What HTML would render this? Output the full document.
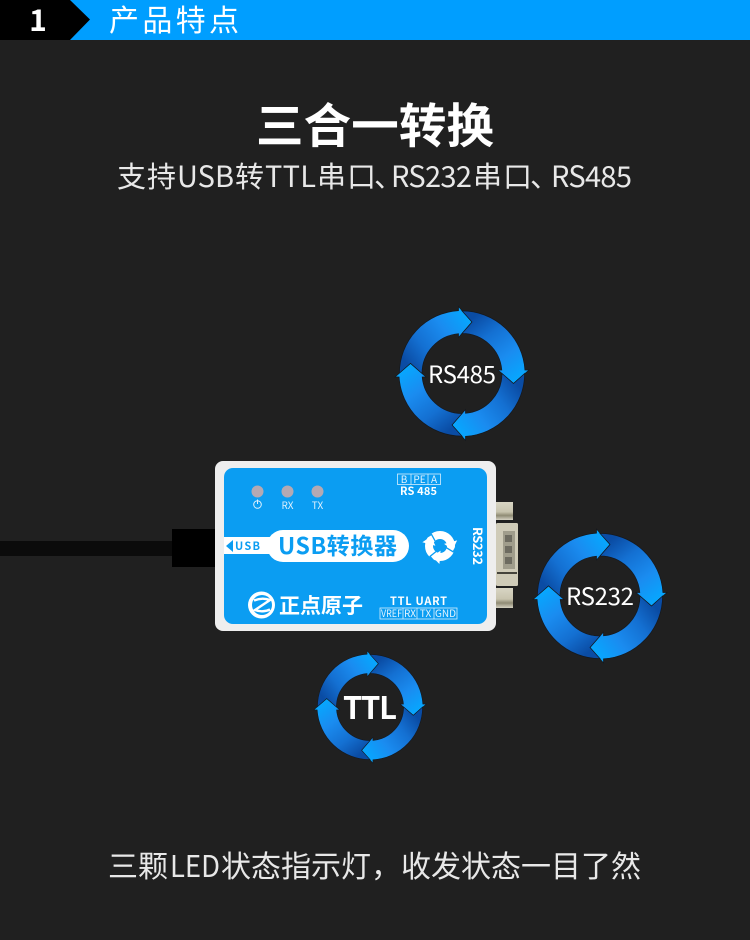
<!DOCTYPE html>
<html><head><meta charset="utf-8"><style>
html,body{margin:0;padding:0;background:#202020}
svg{display:block}
text{font-family:"Noto Sans CJK SC","Liberation Sans",sans-serif}
</style></head><body>
<svg width="750" height="940" viewBox="0 0 750 940" xmlns="http://www.w3.org/2000/svg">
<defs>
<linearGradient id="g" gradientUnits="userSpaceOnUse" x1="-52" y1="-6" x2="10" y2="-52">
<stop offset="0" stop-color="#0a4ca4"/><stop offset=".3" stop-color="#1470d2"/><stop offset=".65" stop-color="#1a8cf0"/><stop offset="1" stop-color="#06a8ff"/>
</linearGradient>
<path id="a" d="M-62.6,0 L-51.5,-10 L-40,0 A40,40 0 0 1 -3.500,-39.800 L-3.500,-36 L10,-51.500 L-3.500,-67 L-3.500,-62.900 A63,63 0 0 0 -62.600,0 Z"/>
<g id="ring" fill="url(#g)" stroke="#14181e" stroke-width=".7" stroke-linejoin="miter">
<use href="#a"/><use href="#a" transform="rotate(90)"/><use href="#a" transform="rotate(180)"/><use href="#a" transform="rotate(270)"/>
</g>
<linearGradient id="m" x1="0" y1="0" x2="0" y2="1"><stop offset="0" stop-color="#d8d5c4"/><stop offset=".55" stop-color="#c8c4ae"/><stop offset=".75" stop-color="#8f8b74"/><stop offset="1" stop-color="#d5d2c2"/></linearGradient>
<g id="ih"><path d="M-1,-18 L-1,-4.500 L7,-11.200Z" fill="#fff"/><path d="M1.500,-18.500 L9,-11.200 L1.500,-4" fill="none" stroke="#0b9df2" stroke-width="1.300"/></g>
</defs>
<rect width="750" height="940" fill="#202020"/>

<!-- header -->
<rect width="750" height="40" fill="#009eff"/>
<path d="M0,0H70L90,19.500L70,40H0Z" fill="#000"/>
<text x="38" y="31" font-size="30" font-weight="700" fill="#fff" text-anchor="middle">1</text>
<text x="109" y="31" font-size="30" fill="#fff" textLength="130" lengthAdjust="spacing">产品特点</text>

<!-- titles -->
<text x="256" y="143" font-size="47.500" font-weight="700" fill="#fff" textLength="238" lengthAdjust="spacing">三合一转换</text>
<g font-size="29" fill="#e8e8e8">
<text x="117" y="187" textLength="59" lengthAdjust="spacing">支持</text>
<text x="177" y="187" textLength="57" lengthAdjust="spacing">USB</text>
<text x="235" y="187">转</text>
<text x="265" y="187" textLength="51" lengthAdjust="spacing">TTL</text>
<text x="317" y="187" textLength="59" lengthAdjust="spacing">串口</text>
<text x="374" y="187">、</text>
<text x="391" y="187" textLength="81" lengthAdjust="spacing">RS232</text>
<text x="473" y="187" textLength="59" lengthAdjust="spacing">串口</text>
<text x="530" y="187">、</text>
<text x="551" y="187" textLength="81" lengthAdjust="spacing">RS485</text>
</g>
<g font-size="30" fill="#e8e8e8">
<text x="108" y="877">三颗</text>
<text x="170" y="877" textLength="50" lengthAdjust="spacingAndGlyphs">LED</text>
<text x="221" y="877" textLength="420" lengthAdjust="spacing">状态指示灯，收发状态一目了然</text>
</g>

<!-- rings -->
<use href="#ring" transform="translate(462,373.500)"/>
<use href="#ring" transform="translate(600,596)"/>
<use href="#ring" transform="translate(370,707) scale(.84)"/>
<text x="428" y="383" font-size="24" fill="#fff" textLength="68" lengthAdjust="spacing">RS485</text>
<text x="566" y="605" font-size="24" fill="#fff" textLength="68" lengthAdjust="spacing">RS232</text>
<text x="343" y="719" font-size="31" font-weight="700" fill="#fff" textLength="54" lengthAdjust="spacing">TTL</text>

<!-- cable -->
<rect x="0" y="541" width="172" height="15" fill="#0b0b0b"/>
<rect x="172" y="529" width="44" height="38" fill="#000"/>

<!-- DB9 -->
<rect x="496" y="502" width="17" height="18" fill="url(#m)"/>
<rect x="496" y="588" width="17" height="20" fill="url(#m)"/>
<rect x="496" y="523" width="22" height="63" rx="1.500" fill="#cfcbb8"/>
<rect x="503" y="531" width="12" height="38" fill="#a09d8c"/>
<rect x="505" y="535" width="7" height="7" fill="#6d6b60"/>
<rect x="505" y="546" width="7" height="7" fill="#6d6b60"/>
<rect x="505" y="557" width="7" height="7" fill="#6d6b60"/>
<rect x="497" y="572" width="20" height="2" fill="#45443c"/>

<!-- body -->
<rect x="215" y="461" width="281" height="170" rx="8" fill="#eeeeee"/>
<rect x="224" y="468" width="263" height="156" rx="9" fill="#0b9df2"/>

<!-- LEDs -->
<circle cx="257.500" cy="491.500" r="6" fill="#b4a9b3"/>
<circle cx="287.500" cy="491.500" r="6" fill="#b4a9b3"/>
<circle cx="317.500" cy="491.500" r="6" fill="#b4a9b3"/>
<circle cx="257.500" cy="504.500" r="3.800" fill="none" stroke="#dff1fd" stroke-width="1"/>
<path d="M257.500,499.500V504" stroke="#dff1fd" stroke-width="1"/>
<text x="287.500" y="509" font-size="10" fill="#dff1fd" text-anchor="middle">RX</text>
<text x="317.500" y="509" font-size="10" fill="#dff1fd" text-anchor="middle">TX</text>

<!-- RS485 label -->
<g fill="none" stroke="#d8effd" stroke-width=".8"><rect x="397.500" y="474" width="43" height="10.500"/><path d="M411,474V484.500M428,474V484.500"/></g>
<g font-size="10" fill="#e4f4fe" text-anchor="middle"><text x="404" y="483">B</text><text x="419.500" y="483">PE</text><text x="434" y="483">A</text></g>
<text x="400" y="495" font-size="11" font-weight="700" fill="#fff" textLength="37" lengthAdjust="spacing">RS 485</text>

<!-- USB label -->
<rect x="224" y="537" width="50" height="17" fill="#fff"/>
<rect x="267" y="530" width="142" height="32" rx="16" fill="#fff"/>
<path d="M226,546L233,540V552Z" fill="#0b9df2"/>
<text x="235" y="550" font-size="11" font-weight="700" fill="#0b9df2" textLength="25" lengthAdjust="spacing">USB</text>
<text x="278" y="554" font-size="23" font-weight="700" fill="#0b9df2" textLength="119" lengthAdjust="spacing">USB转换器</text>

<!-- icon -->
<circle cx="440" cy="546" r="11" fill="none" stroke="#fff" stroke-width="8"/>
<use href="#ih" transform="translate(440,546) rotate(75)"/>
<use href="#ih" transform="translate(440,546) rotate(185)"/>
<use href="#ih" transform="translate(440,546) rotate(285)"/>

<!-- RS232 vertical -->
<text transform="translate(473,527) rotate(90)" font-size="13" font-weight="700" fill="#fff" textLength="38" lengthAdjust="spacing">RS232</text>

<!-- logo -->
<circle cx="261.500" cy="605" r="13.500" fill="#fff"/>
<circle cx="262" cy="605" r="10" fill="#0b9df2"/>
<path d="M254,600.500C260,598 266,598.500 270,600L255,610C260,612 266,611.500 270,609.500" fill="none" stroke="#fff" stroke-width="2.400"/>
<text x="279" y="613" font-size="21" font-weight="700" fill="#fff" textLength="84" lengthAdjust="spacing">正点原子</text>

<!-- TTL UART -->
<text x="390" y="605" font-size="11" font-weight="700" fill="#fff" textLength="57" lengthAdjust="spacing">TTL  UART</text>
<g fill="none" stroke="#d8effd" stroke-width=".8"><rect x="380" y="608" width="77" height="11"/><path d="M403,608V619M417,608V619M434,608V619"/></g>
<g font-size="10" fill="#e4f4fe" text-anchor="middle"><text x="391.500" y="617" textLength="21" lengthAdjust="spacingAndGlyphs">VREF</text><text x="410" y="617">RX</text><text x="425.500" y="617">TX</text><text x="445.500" y="617">GND</text></g>
</svg>
</body></html>
